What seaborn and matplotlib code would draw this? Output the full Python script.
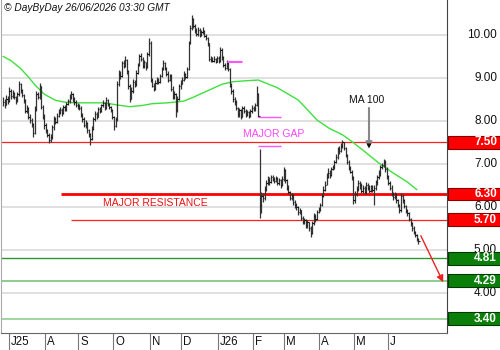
import numpy as np
import pandas as pd
import seaborn as sns
import matplotlib.pyplot as plt
from matplotlib.patches import Rectangle
import matplotlib.transforms as mtransforms

# daily bars, 25/06/2025 -> 26/06/2026 (one row per month)
close = [
    8.45, 8.38, 8.52, 8.47,
    8.70, 8.58, 8.66, 8.55, 8.48, 8.62, 8.85, 8.72, 8.60, 8.48, 8.22, 8.30, 8.10, 8.02, 7.92, 7.72, 8.28, 8.62, 8.55, 8.80, 8.32, 8.10, 7.90,
    7.78, 7.68, 7.55, 7.62, 7.85, 8.05, 7.98, 8.12, 8.20, 8.26, 8.18, 8.32, 8.28, 8.40, 8.46, 8.55, 8.62, 8.50, 8.44, 8.38, 8.35,
    8.30, 8.14, 8.05, 7.90, 7.95, 7.78, 7.70, 7.58, 7.82, 8.05, 8.15, 8.10, 8.28, 8.22, 8.36, 8.42, 8.30, 8.48, 8.40, 8.32, 8.25, 8.10,
    7.88, 8.05, 8.85, 9.10, 9.05, 9.35, 9.28, 9.42, 9.15, 8.80, 8.52, 8.70, 8.90, 8.85, 9.12, 9.30, 9.50, 9.45, 9.28, 9.36, 9.25, 9.55, 9.80,
    8.95, 8.82, 8.75, 8.88, 8.95, 8.90, 9.05, 9.20, 9.35, 9.22, 9.10, 8.95, 9.05, 8.75, 8.55, 8.62, 8.25, 8.50, 8.80, 8.85,
    8.95, 9.08, 9.02, 9.20, 9.80, 10.15, 10.38, 10.20, 10.10, 10.02, 10.12, 10.00, 10.06, 10.10, 9.98, 9.92, 9.80, 9.45, 9.42, 9.40, 9.44, 9.38, 9.46,
    9.40, 9.65, 9.48, 9.30, 9.22, 9.35, 9.20, 8.82, 8.70, 8.50, 8.45, 8.30, 8.15, 8.25, 8.10, 8.30, 8.24, 8.15, 8.20, 8.12, 8.22, 8.30,
    8.28, 8.38, 8.62, 8.12, 6.05, 6.25, 6.20, 6.42, 6.55, 6.62, 6.58, 6.70, 6.66, 6.60, 6.68, 6.55, 6.62, 6.50, 6.65, 6.85,
    6.62, 6.45, 6.35, 6.20, 6.28, 6.12, 6.05, 6.00, 5.88, 5.92, 5.75, 5.65, 5.70, 5.58, 5.64, 5.50, 5.40, 5.62, 5.80, 5.72, 5.88, 5.93,
    6.05, 6.25, 6.40, 6.52, 6.70, 6.80, 6.75, 6.88, 6.92, 7.05, 7.15, 7.35, 7.30, 7.42, 7.50, 7.38, 7.20, 7.05, 6.90, 6.82, 6.70, 6.15,
    6.30, 6.42, 6.55, 6.50, 6.38, 6.45, 6.35, 6.52, 6.45, 6.38, 6.48, 6.40, 6.45, 6.58, 6.70, 6.78, 6.92, 6.98, 7.05, 6.88, 6.72,
    6.55, 6.45, 6.30, 6.22, 6.30, 6.15, 6.05, 5.92, 6.25, 6.15, 6.02, 5.90, 5.85, 5.72, 5.62, 5.50, 5.42, 5.35, 5.25, 5.20,
]
high = [
    8.55, 8.50, 8.60, 8.58,
    8.78, 8.74, 8.72, 8.68, 8.58, 8.68, 8.92, 8.88, 8.75, 8.62, 8.50, 8.38, 8.32, 8.15, 8.06, 7.95, 8.35, 8.70, 8.68, 8.88, 8.82, 8.36, 8.15,
    7.95, 7.82, 7.72, 7.70, 7.90, 8.12, 8.10, 8.18, 8.28, 8.32, 8.30, 8.38, 8.36, 8.45, 8.52, 8.62, 8.70, 8.65, 8.55, 8.48, 8.42,
    8.40, 8.34, 8.18, 8.08, 8.02, 7.98, 7.82, 7.72, 7.88, 8.10, 8.22, 8.20, 8.32, 8.32, 8.40, 8.48, 8.44, 8.55, 8.52, 8.42, 8.35, 8.28,
    8.12, 8.10, 8.92, 9.18, 9.15, 9.40, 9.42, 9.50, 9.45, 9.18, 8.85, 8.78, 8.98, 8.95, 9.18, 9.35, 9.55, 9.58, 9.48, 9.42, 9.38, 9.60, 9.92,
    9.85, 9.00, 8.88, 8.95, 9.02, 9.00, 9.10, 9.25, 9.42, 9.38, 9.25, 9.15, 9.10, 9.08, 8.80, 8.70, 8.65, 8.58, 8.85, 8.95,
    9.02, 9.15, 9.12, 9.25, 9.85, 10.22, 10.45, 10.40, 10.25, 10.15, 10.18, 10.15, 10.12, 10.18, 10.12, 10.02, 9.95, 9.82, 9.50, 9.48, 9.50, 9.46, 9.52,
    9.50, 9.72, 9.70, 9.50, 9.35, 9.42, 9.40, 9.22, 8.88, 8.75, 8.55, 8.48, 8.32, 8.30, 8.28, 8.35, 8.34, 8.28, 8.26, 8.24, 8.28, 8.36,
    8.35, 8.42, 8.80, 8.65, 7.35, 6.35, 6.32, 6.48, 6.62, 6.72, 6.70, 6.75, 6.74, 6.70, 6.72, 6.70, 6.68, 6.65, 6.72, 6.92,
    6.88, 6.65, 6.50, 6.38, 6.32, 6.30, 6.15, 6.10, 6.02, 5.98, 5.94, 5.80, 5.75, 5.72, 5.70, 5.66, 5.55, 5.68, 5.85, 5.84, 5.92, 6.00,
    6.10, 6.32, 6.48, 6.60, 6.78, 6.90, 6.85, 6.92, 6.98, 7.10, 7.22, 7.40, 7.42, 7.48, 7.56, 7.52, 7.40, 7.22, 7.08, 6.95, 6.85, 6.72,
    6.38, 6.48, 6.62, 6.60, 6.55, 6.50, 6.48, 6.58, 6.56, 6.50, 6.52, 6.50, 6.52, 6.62, 6.75, 6.85, 6.98, 7.02, 7.12, 7.08, 6.92,
    6.75, 6.60, 6.50, 6.35, 6.35, 6.32, 6.18, 6.08, 6.32, 6.30, 6.18, 6.05, 5.95, 5.88, 5.75, 5.65, 5.55, 5.45, 5.38, 5.28,
]
low = [
    8.35, 8.30, 8.36, 8.40,
    8.45, 8.52, 8.54, 8.50, 8.40, 8.45, 8.58, 8.66, 8.55, 8.42, 8.18, 8.18, 8.05, 7.95, 7.85, 7.62, 7.70, 8.22, 8.50, 8.52, 8.28, 8.05, 7.82,
    7.72, 7.62, 7.48, 7.50, 7.58, 7.80, 7.92, 7.94, 8.08, 8.15, 8.12, 8.15, 8.22, 8.24, 8.36, 8.42, 8.50, 8.45, 8.38, 8.32, 8.28,
    8.25, 8.08, 7.98, 7.85, 7.84, 7.72, 7.62, 7.45, 7.55, 7.78, 8.00, 8.04, 8.08, 8.18, 8.20, 8.32, 8.25, 8.28, 8.35, 8.28, 8.20, 8.05,
    7.80, 7.85, 8.00, 8.80, 8.98, 9.02, 9.22, 9.25, 9.10, 8.75, 8.45, 8.50, 8.65, 8.78, 8.80, 9.08, 9.28, 9.40, 9.22, 9.24, 9.18, 9.22, 9.50,
    8.90, 8.78, 8.70, 8.72, 8.85, 8.85, 8.88, 9.02, 9.18, 9.18, 9.05, 8.90, 8.92, 8.70, 8.50, 8.52, 8.08, 8.20, 8.48, 8.75,
    8.85, 8.92, 8.98, 9.00, 9.18, 9.78, 10.12, 10.15, 10.05, 9.98, 9.98, 9.95, 9.98, 10.02, 9.95, 9.88, 9.75, 9.40, 9.38, 9.36, 9.36, 9.34, 9.36,
    9.35, 9.38, 9.42, 9.25, 9.18, 9.20, 9.15, 8.78, 8.62, 8.45, 8.38, 8.25, 8.08, 8.10, 8.05, 8.08, 8.18, 8.10, 8.12, 8.06, 8.10, 8.18,
    8.22, 8.24, 8.35, 8.08, 5.75, 5.85, 6.12, 6.15, 6.38, 6.50, 6.52, 6.55, 6.60, 6.55, 6.58, 6.50, 6.52, 6.45, 6.48, 6.60,
    6.55, 6.40, 6.30, 6.15, 6.15, 6.05, 5.98, 5.92, 5.82, 5.84, 5.70, 5.60, 5.60, 5.50, 5.52, 5.45, 5.30, 5.38, 5.58, 5.65, 5.70, 5.85,
    5.90, 6.02, 6.22, 6.38, 6.50, 6.68, 6.68, 6.72, 6.85, 6.88, 7.02, 7.12, 7.22, 7.28, 7.38, 7.32, 7.15, 7.00, 6.85, 6.78, 6.62, 6.08,
    6.10, 6.25, 6.38, 6.42, 6.32, 6.32, 6.30, 6.30, 6.40, 6.32, 6.35, 6.35, 6.05, 6.40, 6.52, 6.66, 6.72, 6.88, 6.92, 6.82, 6.65,
    6.50, 6.40, 6.25, 6.15, 6.18, 6.10, 6.00, 5.85, 5.88, 6.10, 5.98, 5.85, 5.80, 5.68, 5.55, 5.45, 5.38, 5.30, 5.20, 5.15,
]

# MA 100 (bar index, value)
ma_idx = [0, 5, 11, 16, 20, 26, 33, 38, 45, 55, 64, 72, 80, 88, 94, 104, 114, 120, 126, 132, 138, 145, 152, 161,
          173, 186, 192, 198, 206, 214, 220, 229, 237, 246, 255, 261]
ma_val = [9.50, 9.40, 9.22, 9.02, 8.84, 8.62, 8.48, 8.44, 8.42, 8.42, 8.42, 8.37, 8.33, 8.36, 8.40, 8.42, 8.46, 8.55,
          8.65, 8.75, 8.85, 8.91, 8.93, 8.95, 8.77, 8.49, 8.26, 8.02, 7.82, 7.68, 7.52, 7.26, 7.02, 6.79, 6.58, 6.40]

red_levels = [7.50, 6.30, 5.70]
green_levels = [4.81, 4.29, 3.40]
month_labels = ['J25', 'A', 'S', 'O', 'N', 'D', 'J26', 'F', 'M', 'A', 'M', 'J']
y_ticks = [4, 5, 6, 7, 8, 9, 10]

dates = pd.bdate_range('2025-06-25', '2026-06-26')
df = pd.DataFrame({'date': dates, 'close': close, 'high': high, 'low': low})
df['i'] = np.arange(len(df))
month_start = df.index[df['date'].dt.month != df['date'].dt.month.shift()].tolist()[1:]

sns.set_style('white')
plt.rcParams['font.family'] = ['Liberation Sans', 'DejaVu Sans']

fig = plt.figure(figsize=(5, 3.5), dpi=100)
ax = fig.add_axes([1 / 500, 17 / 350, 446 / 500, 333 / 350])
ax.set_xlim(-1.3, 280)
ax.set_ylim(3.07, 10.81)

for v in y_ticks:
    ax.axhline(v, color='#dddddd', lw=1.3, zorder=0)

# level lines
ax.axhline(7.50, color='#ff2020', lw=0.9, zorder=1)
ax.hlines(6.30, 36.5, 280, color='#ff0000', lw=2.0, zorder=1)
ax.hlines(5.70, 42.8, 280, color='#ff2020', lw=0.9, zorder=1)
ax.axhline(4.81, color='#2e9a2e', lw=1.0, zorder=1)
ax.axhline(4.29, color='#7cc47c', lw=1.2, zorder=1)
ax.axhline(3.40, color='#8fcf8f', lw=1.2, zorder=1)

# OHLC bars
ax.vlines(df['i'], df['low'], df['high'], color='#333333', lw=0.9, zorder=3)
ax.hlines(df['close'], df['i'], df['i'] + 0.8, color='#111111', lw=0.8, zorder=3)

sns.lineplot(x=ma_idx, y=ma_val, ax=ax, color='#3ee03e', lw=1.0, zorder=2)

# magenta gap marks
ax.hlines([9.40, 9.36], 141.5, 150.5, color='#ff55ff', lw=0.8, zorder=4)
ax.hlines(8.10, 161, 175, color='#ff55ff', lw=1.0, zorder=4)
ax.hlines(7.42, 161, 175, color='#ff55ff', lw=1.0, zorder=4)
ax.text(170.5, 7.70, 'MAJOR GAP', color='#ff44ff', fontsize=7.5, ha='center', va='center')
ax.text(96, 6.09, 'MAJOR RESISTANCE', color='#ee1111', fontsize=7.5, ha='center', va='center')
ax.text(229.5, 8.49, 'MA 100', color='#111111', fontsize=7.5, ha='center', va='center')
ax.annotate('', xy=(230.8, 7.36), xytext=(230.8, 8.30),
            arrowprops=dict(arrowstyle='-|>', color='#888888', lw=1.5, mutation_scale=9,
                            shrinkA=0, shrinkB=0))
ax.annotate('', xy=(230.8, 7.36), xytext=(230.8, 7.60),
            arrowprops=dict(arrowstyle='-|>', color='#111111', lw=0, mutation_scale=9,
                            shrinkA=0, shrinkB=0))
ax.annotate('', xy=(277.6, 4.25), xytext=(263.5, 5.33),
            arrowprops=dict(arrowstyle='-|>', color='#ee2222', lw=1.0, mutation_scale=10,
                            shrinkA=0, shrinkB=0))

# right-hand price scale
trans = mtransforms.blended_transform_factory(ax.transAxes, ax.transData)
xr = (497 - 1) / 446
for v in y_ticks:
    ax.text(xr, v, f'{v:.2f}', transform=trans, ha='right', va='center', fontsize=8.5,
            color='#111111', clip_on=False)
for levels, fill, edge in [(red_levels, '#ff0000', '#8a0000'), (green_levels, '#0a800a', '#003a00')]:
    for v in levels:
        ax.add_patch(Rectangle((1.0022, v - 0.15), 0.125, 0.30, transform=trans, facecolor=fill,
                               edgecolor=edge, lw=0.8, clip_on=False, zorder=5))
        ax.text(xr, v, f'{v:.2f}', transform=trans, ha='right', va='center', fontsize=8.5,
                color='white', fontweight='bold', clip_on=False, zorder=6)

# month strip
ax.spines['top'].set_visible(False)
ax.spines['left'].set_color('#aaaaaa')
ax.spines['right'].set_color('#444444')
ax.spines['bottom'].set_color('#666666')
seps = [m - 0.5 for m in month_start]
ax.set_xticks(seps)
ax.set_xticklabels([])
ax.tick_params(axis='x', direction='out', length=12.5, width=0.8, color='#777777', bottom=True)
ax.set_yticks([])
xtrans = mtransforms.blended_transform_factory(ax.transData, ax.transAxes)
for s, lab in zip(seps, month_labels):
    ax.text(s + 1.2, -0.027, lab, transform=xtrans, ha='left', va='center', fontsize=8.3,
            color='#111111', clip_on=False)

fig.text(4 / 500, 1 - 8 / 350, '\u00a9 DayByDay 26/06/2026 03:30 GMT', fontsize=7.3,
         style='italic', ha='left', va='center', color='#111111')

fig.savefig('out.png', dpi=100)
